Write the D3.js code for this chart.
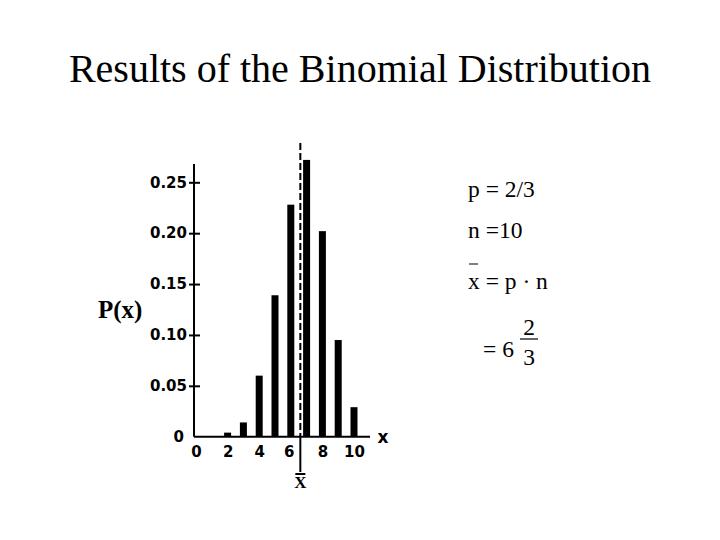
<!DOCTYPE html>
<html><head><meta charset="utf-8">
<script src="https://cdn.jsdelivr.net/npm/d3@7"></script>
<style>body{margin:0;background:#fff}</style>
</head><body>
<svg id="c" width="720" height="540"></svg>
<script>
const xs = [0,1,2,3,4,5,6,7,8,9,10];
const probs = [0,0,0.004,0.014,0.060,0.139,0.228,0.272,0.202,0.095,0.029];
const yTicks = [0.05,0.10,0.15,0.20,0.25];
const xTickLabels = [0,2,4,6,8,10];
const meanX = 20/3;
const title = "Results of the Binomial Distribution";

const svg = d3.select("#c");
svg.append("rect").attr("width",720).attr("height",540).attr("fill","#fff");
svg.append("text").attr("x",360).attr("y",82).attr("text-anchor","middle")
  .attr("font-family","Liberation Serif").attr("font-size",40).text(title);

const x = d3.scaleLinear().domain([0,10]).range([196,354]);
const y = d3.scaleLinear().domain([0,0.25]).range([436.7,182.3]);
const axX = 194;
const tickFont = "DejaVu Sans";

const g = svg.append("g").attr("font-family",tickFont).attr("font-weight","bold");

// bars
g.selectAll("rect.bar").data(xs.map((k,i)=>({k,p:probs[i]})).filter(d=>d.p>0))
  .enter().append("rect").attr("class","bar")
  .attr("x",d=>x(d.k)-3.5).attr("width",7)
  .attr("y",d=>y(d.p)).attr("height",d=>y(0)-y(d.p)).attr("fill","#000");

// y axis
const yAxis = d3.axisLeft(y).tickValues(yTicks).tickSize(5).tickFormat(d3.format(".2f"));
const ya = g.append("g").attr("transform",`translate(${axX},0)`).call(yAxis);
ya.select(".domain").remove();
ya.selectAll(".tick line").attr("x1",-5).attr("x2",6).attr("stroke-width",2);
ya.selectAll(".tick text").attr("font-size",15).attr("font-family",tickFont).attr("font-weight","bold").attr("x",-7);
g.append("line").attr("x1",axX).attr("x2",axX).attr("y1",y(0)).attr("y2",164).attr("stroke","#000").attr("stroke-width",2);
g.append("text").attr("x",184).attr("y",y(0)+5).attr("text-anchor","end").attr("font-size",15).text("0");

// x axis
g.append("line").attr("x1",axX).attr("x2",370).attr("y1",y(0)).attr("y2",y(0)).attr("stroke","#000").attr("stroke-width",2);
const xAxis = d3.axisBottom(x).tickValues(xTickLabels).tickSize(0).tickPadding(0);
const xa = g.append("g").attr("transform",`translate(0,${y(0)+10})`).call(xAxis);
xa.select(".domain").remove();
xa.selectAll(".tick text").attr("font-size",15).attr("font-family",tickFont).attr("font-weight","bold").attr("dy","0.71em").attr("x",d=>d===6?-2:0);
g.append("text").attr("x",383).attr("y",y(0)+6).attr("text-anchor","middle").attr("font-size",17).text("x");

// mean line
const mx = x(meanX)-1;
g.append("line").attr("x1",mx).attr("x2",mx).attr("y1",143).attr("y2",y(0)).attr("stroke","#000").attr("stroke-width",2).attr("stroke-dasharray","7,3");
g.append("line").attr("x1",mx).attr("x2",mx).attr("y1",y(0)).attr("y2",472).attr("stroke","#000").attr("stroke-width",2);
g.append("text").attr("x",mx).attr("y",488).attr("text-anchor","middle").attr("font-family","Liberation Serif").attr("font-size",17).text("X");
g.append("line").attr("x1",mx-5).attr("x2",mx+5).attr("y1",474).attr("y2",474).attr("stroke","#000").attr("stroke-width",2);

// P(x) label
svg.append("text").attr("x",98).attr("y",318).attr("font-family","Liberation Serif").attr("font-weight","bold").attr("font-size",25).text("P(x)");

// formula text
const f = svg.append("g").attr("font-family","Liberation Serif").attr("font-size",23.5);
f.append("text").attr("x",468).attr("y",197).text("p = 2/3");
f.append("text").attr("x",468).attr("y",238).text("n =10");
f.append("text").attr("x",468).attr("y",289).text("x = p \u00b7 n");
f.append("line").attr("x1",469).attr("x2",478).attr("y1",264).attr("y2",264).attr("stroke","#000").attr("stroke-width",1);
f.append("text").attr("x",483).attr("y",357).text("= 6");
f.append("text").attr("x",529).attr("y",335).attr("text-anchor","middle").text("2");
f.append("line").attr("x1",520).attr("x2",538).attr("y1",339).attr("y2",339).attr("stroke","#000").attr("stroke-width",1.2);
f.append("text").attr("x",529).attr("y",365).attr("text-anchor","middle").text("3");
</script>
</body></html>
